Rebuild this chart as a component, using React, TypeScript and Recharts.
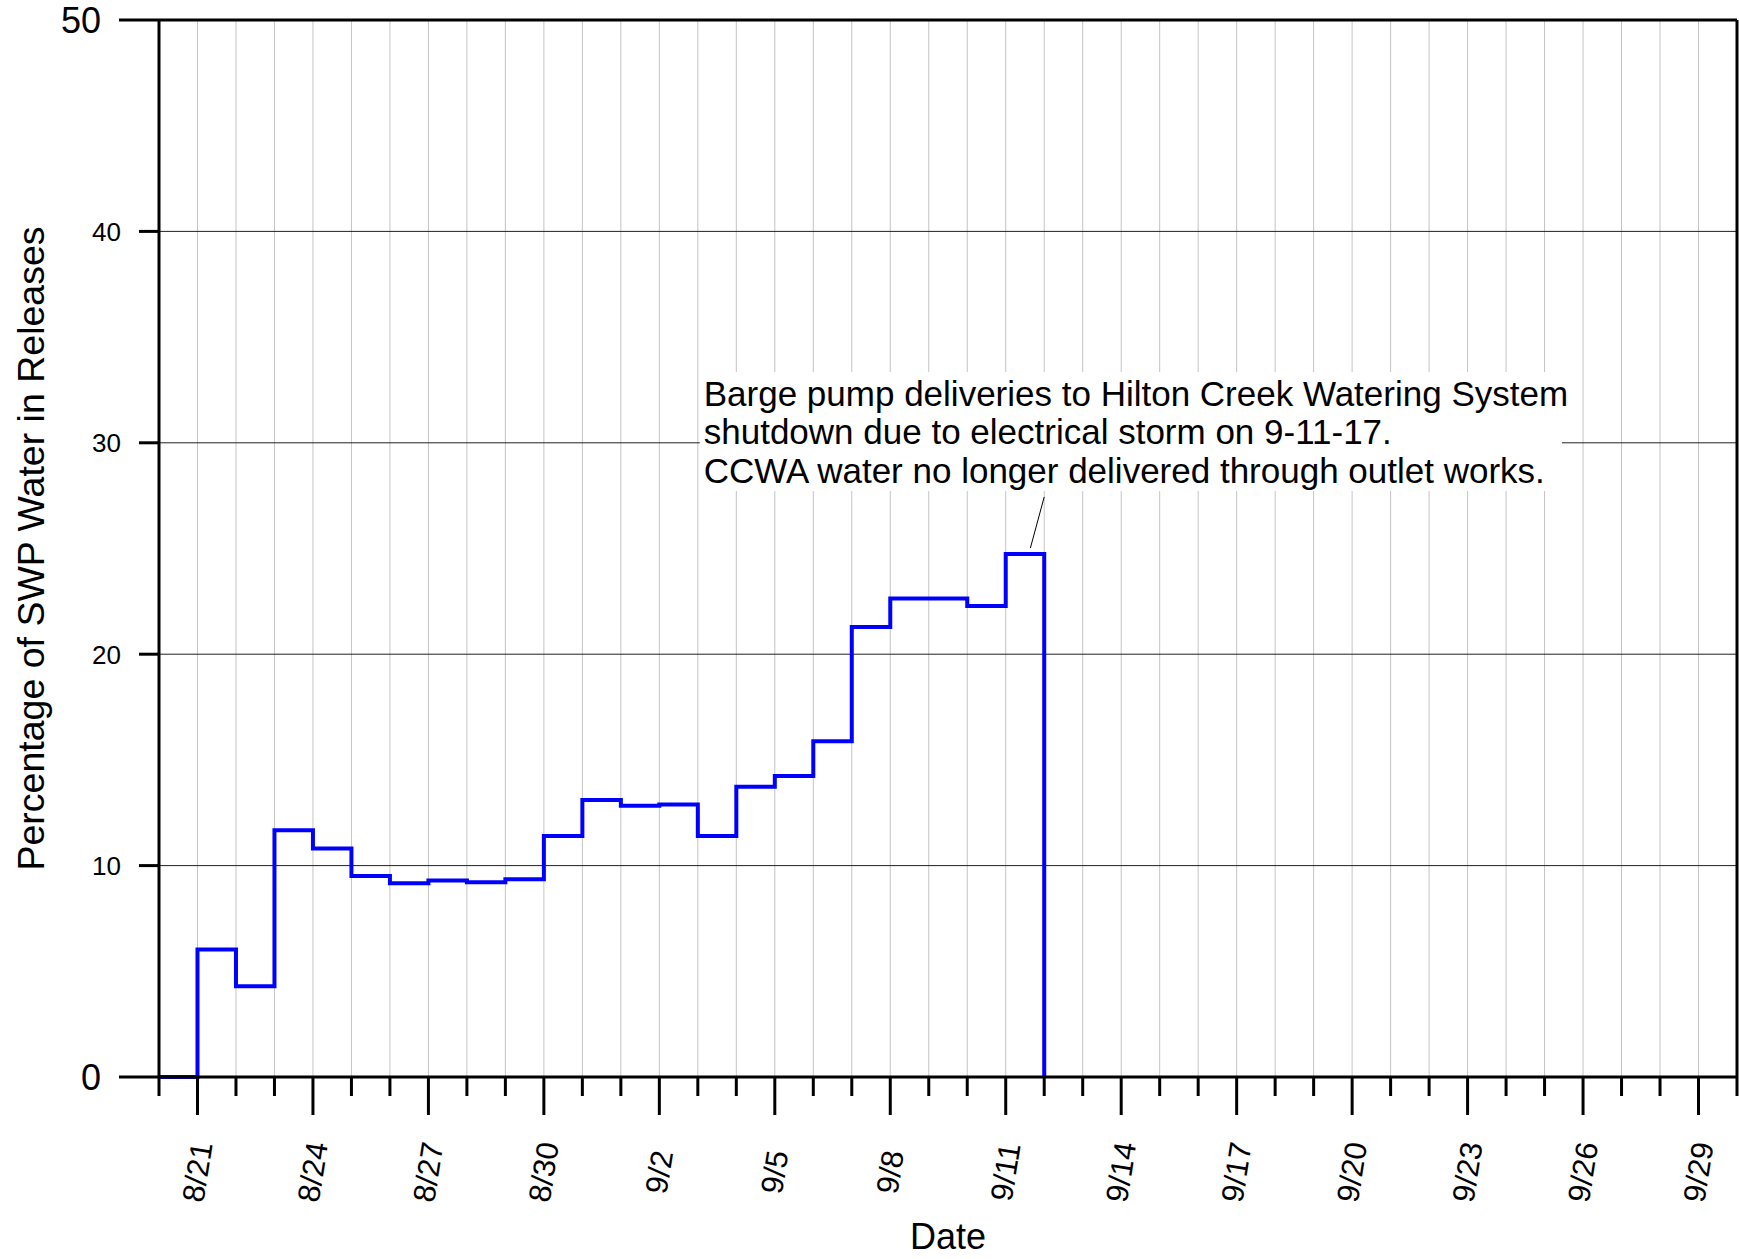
import React from 'react';
import {
  LineChart,
  Line,
  XAxis,
  YAxis,
  CartesianGrid,
  ReferenceLine,
  ReferenceArea,
} from 'recharts';

// one entry per day on the axis, 8/20 .. 9/30
const dayLabels = [
  '8/20', '8/21', '8/22', '8/23', '8/24', '8/25', '8/26', '8/27', '8/28', '8/29', '8/30', '8/31',
  '9/1', '9/2', '9/3', '9/4', '9/5', '9/6', '9/7', '9/8', '9/9', '9/10', '9/11', '9/12',
  '9/13', '9/14', '9/15', '9/16', '9/17', '9/18', '9/19', '9/20', '9/21', '9/22', '9/23',
  '9/24', '9/25', '9/26', '9/27', '9/28', '9/29', '9/30',
];

const labeledDates = ['8/21', '8/24', '8/27', '8/30', '9/2', '9/5', '9/8', '9/11', '9/14', '9/17', '9/20', '9/23', '9/26', '9/29'];

// daily step values (value holds until the next date)
const stepDates = [
  '8/20', '8/21', '8/22', '8/23', '8/24', '8/25', '8/26', '8/27', '8/28', '8/29', '8/30', '8/31',
  '9/1', '9/2', '9/3', '9/4', '9/5', '9/6', '9/7', '9/8', '9/9', '9/10', '9/11', '9/12',
];
const swpPercent = [
  0, 6.03, 4.29, 11.67, 10.81, 9.51, 9.17, 9.3, 9.21, 9.35, 11.4, 13.1,
  12.83, 12.89, 11.4, 13.73, 14.24, 15.88, 21.29, 22.64, 22.64, 22.28, 24.74, 0,
];

const yTicks = [0, 10, 20, 30, 40, 50];

const noteLines = [
  'Barge pump deliveries to Hilton Creek Watering System',
  'shutdown due to electrical storm on 9-11-17.',
  'CCWA water no longer delivered through outlet works.',
];

const data = stepDates.map((d, i) => ({ day: dayLabels.indexOf(d), pct: swpPercent[i] }));
const dayTicks = dayLabels.map((_, i) => i);

const FONT = '"Liberation Sans", Arial, sans-serif';

const XTick = (props: any) => {
  const { x, y, payload } = props;
  const label = dayLabels[payload.value];
  const major = labeledDates.includes(label);
  const len = major ? 38 : 19;
  const cy = y + 95;
  return (
    <g>
      <line x1={x} y1={y} x2={x} y2={y + len} stroke="#000" strokeWidth={3} />
      {major && (
        <text
          x={x}
          y={cy}
          transform={`rotate(-81, ${x}, ${cy})`}
          textAnchor="middle"
          dominantBaseline="central"
          fontSize={31}
          fontFamily={FONT}
          fill="#000"
        >
          {label}
        </text>
      )}
    </g>
  );
};

const YTick = (props: any) => {
  const { x, y, payload } = props;
  const end = payload.value === 0 || payload.value === 50;
  const len = end ? 40 : 20;
  return (
    <g>
      <line x1={x - len} y1={y} x2={x} y2={y} stroke="#000" strokeWidth={3} />
      <text
        x={x - len - 18}
        y={y}
        dy="0.36em"
        textAnchor="end"
        fontSize={end ? 36 : 26}
        fontFamily={FONT}
        fill="#000"
      >
        {payload.value}
      </text>
    </g>
  );
};

const YTitle = (props: any) => {
  const { viewBox } = props;
  const cx = viewBox.x + 31;
  const cy = viewBox.y + viewBox.height / 2;
  return (
    <text
      x={cx}
      y={cy}
      transform={`rotate(-90, ${cx}, ${cy})`}
      textAnchor="middle"
      dominantBaseline="central"
      fontSize={37.5}
      fontFamily={FONT}
      fill="#000"
    >
      Percentage of SWP Water in Releases
    </text>
  );
};

const XTitle = (props: any) => {
  const { viewBox } = props;
  return (
    <text
      x={viewBox.x + viewBox.width / 2}
      y={viewBox.y + viewBox.height - 10}
      textAnchor="middle"
      fontSize={36}
      fontFamily={FONT}
      fill="#000"
    >
      Date
    </text>
  );
};

const Note = (props: any) => {
  const { viewBox } = props;
  return (
    <text x={viewBox.x + 4} y={viewBox.y + 34} fontSize={35} fontFamily={FONT} fill="#000">
      {noteLines.map((t, i) => (
        <tspan key={i} x={viewBox.x + 4} dy={i === 0 ? 0 : 38.5}>
          {t}
        </tspan>
      ))}
    </text>
  );
};

export default function App() {
  return (
    <div style={{ position: 'absolute', left: 0, top: 0, background: '#fff', fontFamily: FONT }}>
      <LineChart width={1739} height={1259} data={data} margin={{ top: 20, right: 2, left: 0, bottom: 0 }}>
        <CartesianGrid horizontal={false} stroke="#c4c4c4" strokeWidth={1} />
        <CartesianGrid vertical={false} stroke="#222" strokeWidth={1} />
        <XAxis
          dataKey="day"
          type="number"
          domain={[0, 41]}
          ticks={dayTicks}
          interval={0}
          height={182}
          tickLine={false}
          tickSize={0}
          tickMargin={0}
          axisLine={{ stroke: '#000', strokeWidth: 3 }}
          tick={<XTick />}
          label={XTitle}
        />
        <YAxis
          type="number"
          domain={[0, 50]}
          ticks={yTicks}
          interval={0}
          width={159}
          tickLine={false}
          tickSize={0}
          tickMargin={0}
          axisLine={{ stroke: '#000', strokeWidth: 3 }}
          tick={<YTick />}
          label={YTitle}
        />
        <ReferenceLine y={50} stroke="#000" strokeWidth={3} />
        <ReferenceLine x={41} stroke="#000" strokeWidth={3} />
        <ReferenceArea x1={14.05} x2={36.45} y1={27.72} y2={33.35} fill="#fff" fillOpacity={1} stroke="none" label={Note} />
        <ReferenceLine segment={[{ x: 22.64, y: 25.02 }, { x: 23.0, y: 27.44 }]} stroke="#000" strokeWidth={1} />
        <Line
          type="stepAfter"
          dataKey="pct"
          stroke="#0000ff"
          strokeWidth={4}
          dot={false}
          isAnimationActive={false}
        />
      </LineChart>
    </div>
  );
}
